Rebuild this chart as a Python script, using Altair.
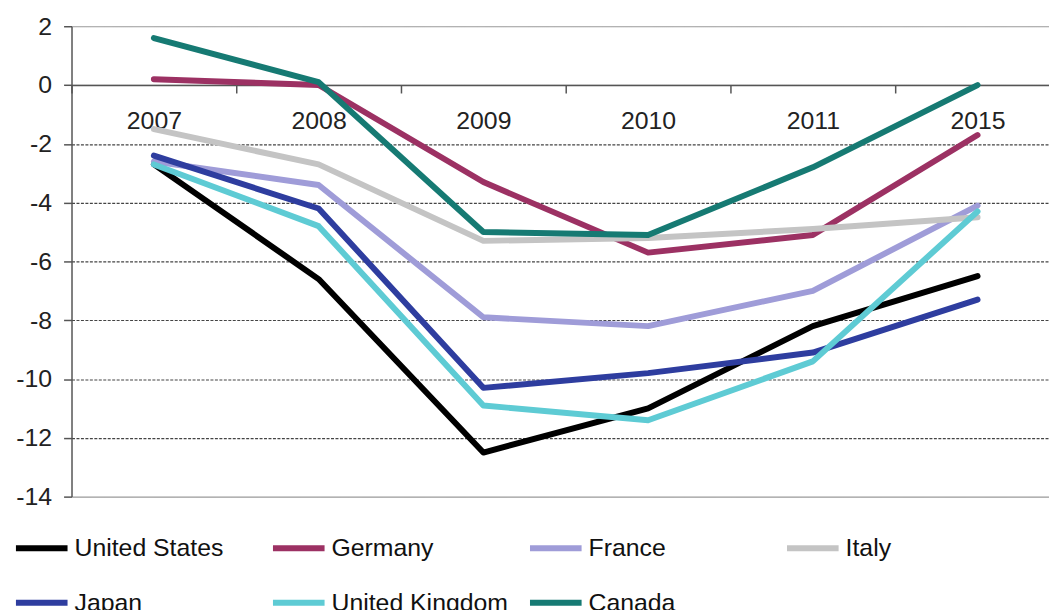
import altair as alt
import pandas as pd

years = ["2007", "2008", "2009", "2010", "2011", "2015"]
countries = ["United States", "Germany", "France", "Italy", "Japan", "United Kingdom", "Canada"]
colors = ["#000000", "#9c3163", "#9f9cd8", "#c4c4c4", "#2e3d9f", "#5ecbd4", "#167a73"]

united_states = [-2.7, -6.6, -12.5, -11.0, -8.2, -6.5]
germany = [0.2, 0.0, -3.3, -5.7, -5.1, -1.7]
france = [-2.6, -3.4, -7.9, -8.2, -7.0, -4.1]
italy = [-1.5, -2.7, -5.3, -5.2, -4.9, -4.5]
japan = [-2.4, -4.2, -10.3, -9.8, -9.1, -7.3]
united_kingdom = [-2.7, -4.8, -10.9, -11.4, -9.4, -4.3]
canada = [1.6, 0.1, -5.0, -5.1, -2.8, 0.0]

y_ticks = [-14, -12, -10, -8, -6, -4, -2, 0, 2]

series = [united_states, germany, france, italy, japan, united_kingdom, canada]
rows = []
for c, vals in zip(countries, series):
    for yr, v in zip(years, vals):
        rows.append({"country": c, "year": yr, "value": v})
df = pd.DataFrame(rows)

W = 996
H = 474
FONT = "Liberation Sans"

dashed = "datum.value < 0 && datum.value > -14"

chart = (
    alt.Chart(df)
    .mark_line(strokeWidth=6, strokeJoin="round", strokeCap="round")
    .encode(
        x=alt.X(
            "year:O",
            sort=years,
            bandPosition=0.5,
            scale=alt.Scale(type="band", domain=years, paddingInner=0, paddingOuter=0),
            axis=alt.Axis(
                orient="bottom",
                offset=-(H * 14 / 16),
                title=None,
                grid=False,
                tickBand="extent",
                tickSize=8,
                tickWidth=1.5,
                tickColor="#555555",
                domainColor="#555555",
                domainWidth=1.5,
                labelFont=FONT,
                labelFontSize=25,
                labelColor="#222222",
                labelPadding=16,
                labelAngle=0,
            ),
        ),
        y=alt.Y(
            "value:Q",
            scale=alt.Scale(domain=[-14, 2], nice=False, zero=False),
            axis=alt.Axis(
                values=y_ticks,
                labelExpr="datum.value + ''",
                title=None,
                tickSize=8,
                tickWidth=1.5,
                tickColor="#555555",
                domainColor="#555555",
                domainWidth=1.5,
                labelFont=FONT,
                labelFontSize=25,
                labelColor="#222222",
                labelPadding=12,
                grid=True,
                gridWidth=1.2,
                gridColor={"condition": {"test": dashed, "value": "#444444"}, "value": "#999999"},
                gridDash={"condition": {"test": dashed, "value": [3, 1.5]}, "value": [1, 0]},
            ),
        ),
        color=alt.Color(
            "country:N",
            sort=countries,
            scale=alt.Scale(domain=countries, range=colors),
            legend=alt.Legend(
                orient="none",
                legendX=-59,
                legendY=497,
                direction="horizontal",
                columns=4,
                gridAlign="all",
                columnPadding=10,
                rowPadding=13,
                symbolType="stroke",
                symbolSize=2704,
                symbolStrokeWidth=6,
                labelFont=FONT,
                labelFontSize=25,
                labelColor="#111111",
                labelOffset=4,
                labelLimit=400,
                title=None,
                padding=0,
            ),
        ),
    )
    .properties(
        width=W,
        height=H,
        autosize=alt.AutoSizeParams(type="none"),
        padding={"left": 64, "top": 16, "right": -11, "bottom": 130},
    )
    .configure_view(stroke=None)
)

chart.save("out.html", embed_options={"renderer": "svg", "actions": False})
